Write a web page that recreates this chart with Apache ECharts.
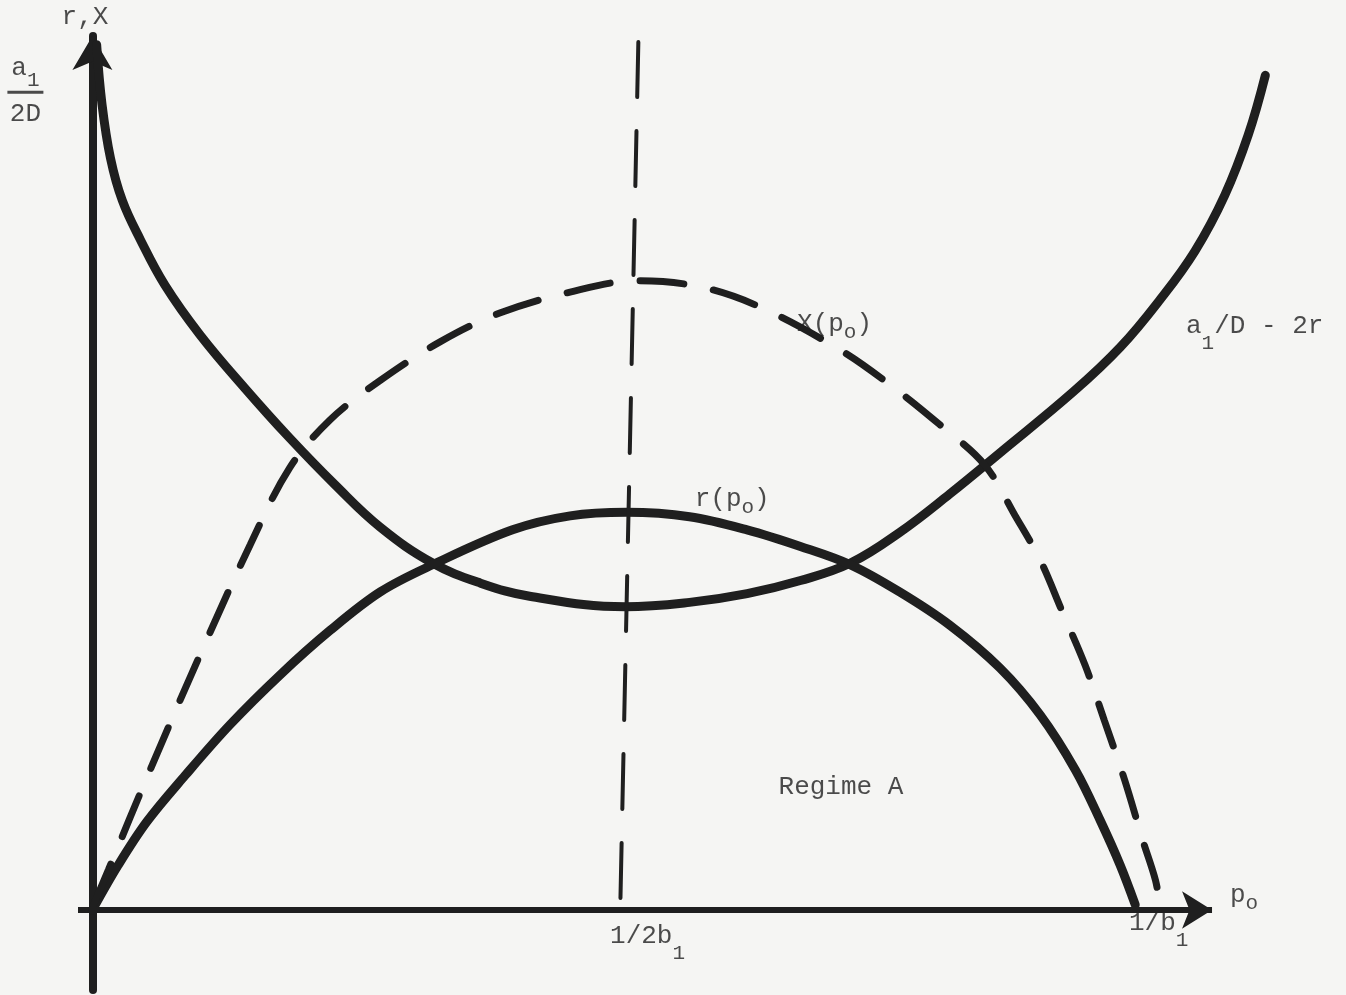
<!DOCTYPE html>
<html>
<head>
<meta charset="utf-8">
<title>Regime A</title>
<script src="https://cdn.jsdelivr.net/npm/echarts@6/dist/echarts.min.js"></script>
<style>
  html, body { margin: 0; padding: 0; background: #f5f5f3; }
  #chart { width: 1346px; height: 995px; }
</style>
</head>
<body>
<div id="chart"></div>
<script>
// x: price of oil, 100 = 1/b1 ; y: r and X, arbitrary units (100 = top of axis)
const uCurve = [ // a1/D - 2r
  [0.4, 99.0], [0.9, 92.2], [1.7, 86.0], [2.8, 81.2], [4.5, 76.7], [6.8, 71.5],
  [10.1, 65.8], [14.3, 59.7], [18.5, 54.0], [22.8, 48.6], [27.0, 43.8], [31.9, 39.7],
  [36.4, 37.4], [41.0, 35.9], [50.0, 34.7], [56.0, 35.2], [61.4, 36.2], [66.4, 37.7],
  [71.1, 39.7], [75.7, 43.2], [80.4, 47.6], [85.1, 52.3], [92.0, 59.3], [96.4, 64.4],
  [100.1, 69.8], [103.4, 75.4], [106.2, 81.8], [108.4, 88.7], [110.0, 95.5]
];
const rCurve = [ // r(po)
  [0, 0], [2.4, 5.1], [5.1, 10.1], [8.7, 15.4], [12.9, 21.2], [17.6, 26.9], [22.3, 32.0],
  [27.0, 36.4], [31.9, 39.5], [39.4, 43.5], [44.8, 45.1], [50.1, 45.5], [56.0, 45.0],
  [61.4, 43.5], [66.4, 41.6], [71.1, 39.5], [75.7, 36.4], [80.4, 32.6], [85.1, 27.7],
  [88.9, 22.3], [92.2, 16.0], [94.5, 10.3], [96.4, 5.1], [97.8, 0.6]
];
const xCurve = [ // X(po)
  [0.1, 0.6], [1.5, 4.6], [5.4, 16.0], [10.1, 29.2], [14.8, 41.8], [18.5, 50.6],
  [22.3, 56.1], [27.0, 60.6], [32.6, 65.0], [38.2, 68.3], [44.8, 70.7], [51.1, 72.0],
  [57.0, 71.3], [62.6, 69.0], [70.1, 64.1], [74.8, 60.1], [79.5, 55.5], [83.7, 50.9],
  [86.5, 45.2], [88.9, 40.0], [90.9, 34.3], [93.1, 28.0], [94.9, 21.7], [96.8, 14.9],
  [98.5, 8.0], [99.7, 3.4], [100.1, 0.6]
];
const midLine = [[51.2, 99.3], [49.5, 0]]; // p0 = 1/2b1
const xAxisEnds = [[-1.35, 0], [105, 0]];

const tickLabels = [
  { at: [50, 0], text: '{t|1/2b}{s|1}', pos: 'bottom', dist: 13, offset: [22, 0] },
  { at: [100, 0], text: '{t|1/b}{s|1}', pos: 'bottom', dist: 0, offset: [0, 0] },
  { at: [0, 93.8], text: '{t|a}{f|1}\n{bar| }\n{t|2D}', pos: 'left', dist: 67, offset: [0, 2] }
];
const curveLabels = [
  { at: [-0.7, 102.1], text: '{t|r,X}' },
  { at: [108.0, 1.6], text: '{t|p}{o|o}' },
  { at: [69.6, 66.9], text: '{t|X(p}{o|o}{t|)}' },
  { at: [60.0, 46.9], text: '{t|r(p}{o|o}{t|)}' },
  { at: [109.0, 66.7], text: '{t|a}{s|1}{t|/D - 2r}' },
  { at: [70.2, 14.0], text: '{t|Regime A}' }
];

const INK = '#1f1f1f';
const FONT = "'Liberation Mono', 'DejaVu Sans Mono', monospace";
const sub = (drop) => ({
  fontFamily: FONT, fontSize: 21, color: INK, lineHeight: 22, padding: [drop, 0, 0, 0], verticalAlign: 'top'
});
const rich = {
  t: { fontFamily: FONT, fontSize: 26, color: INK, lineHeight: 28, verticalAlign: 'top' },
  s: sub(20),
  o: sub(11),
  f: sub(15),
  bar: { width: 36, height: 3, lineHeight: 18, backgroundColor: INK, fontSize: 2 }
};

const chart = echarts.init(document.getElementById('chart'), null, { renderer: 'canvas' });

const labelItem = (l, pos) => ({
  value: l.at,
  label: {
    show: true, formatter: l.text, rich, align: 'center',
    position: l.pos || pos, distance: l.dist || 0, offset: l.offset || [0, 0]
  }
});

chart.setOption({
  backgroundColor: '#f5f5f3',
  animation: false,
  grid: { left: 78, right: 70, top: 36, bottom: 5 },
  xAxis: {
    type: 'value', min: -1.35, max: 111,
    axisLine: { show: false }, axisTick: { show: false }, axisLabel: { show: false }, splitLine: { show: false }
  },
  yAxis: {
    type: 'value', min: -9.15, max: 100,
    axisLine: { onZero: true, symbol: ['none', 'arrow'], symbolSize: [30, 34], lineStyle: { color: INK, width: 8 } },
    axisTick: { show: false }, axisLabel: { show: false }, splitLine: { show: false }
  },
  series: [
    {
      name: 'a1/D - 2r', type: 'line', data: uCurve, smooth: 0.4, symbol: 'none',
      lineStyle: { color: INK, width: 9, cap: 'round' }
    },
    {
      name: 'r(po)', type: 'line', data: rCurve, smooth: 0.35, symbol: 'none',
      lineStyle: { color: INK, width: 9, cap: 'round' }
    },
    {
      name: 'X(po)', type: 'line', data: xCurve, smooth: 0.35, symbol: 'none',
      lineStyle: { color: INK, width: 7, type: [44, 30], cap: 'round' }
    },
    {
      name: '1/2b1', type: 'line', data: midLine, symbol: 'none',
      lineStyle: { color: INK, width: 4, type: [55, 34], cap: 'round' },
      markLine: {
        silent: true, symbol: ['none', 'arrow'], symbolSize: [28, 30],
        label: { show: false },
        lineStyle: { color: INK, width: 6, type: 'solid' },
        data: [[{ coord: xAxisEnds[0] }, { coord: xAxisEnds[1] }]]
      }
    },
    {
      name: 'labels', type: 'scatter', symbolSize: 0, clip: false, silent: true,
      data: [
        ...tickLabels.map(l => labelItem(l)),
        ...curveLabels.map(l => labelItem(l, 'inside'))
      ]
    }
  ]
});
</script>
</body>
</html>
